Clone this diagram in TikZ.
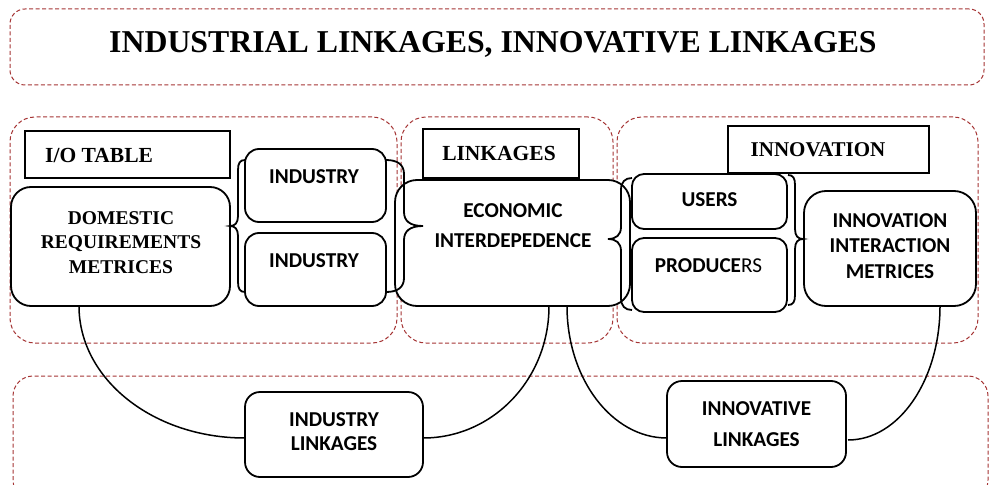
\documentclass[tikz,border=0pt]{standalone}
\usepackage{fontspec}
\setmainfont{Liberation Serif}
\newfontfamily\calfont{Carlito}
\definecolor{dred}{RGB}{165,52,52}
\begin{document}
\begin{tikzpicture}[x=1pt,y=-1pt,
  grp/.style={draw=dred, line width=1pt, dash pattern=on 4pt off 2.5pt, rounded corners=#1, inner sep=0pt, outer sep=0pt},
  grp/.default=25pt,
  rbox/.style={draw=black, line width=1.8pt, fill=white, rounded corners=#1, inner sep=0pt, outer sep=0pt},
  rbox/.default=14pt,
  tbox/.style={draw=black, line width=1.8pt, fill=white, inner sep=0pt, outer sep=0pt},
  sans/.style={font=\calfont\bfseries\fontsize{21.2}{#1}\selectfont, align=center, inner sep=0pt, anchor=base},
  sans/.default=25pt,
  serif/.style={font=\bfseries\fontsize{#1}{24.5}\selectfont, align=center, inner sep=0pt, anchor=base},
  serif/.default=21.5pt,
  bracepath/.style={draw=black, line width=1.8pt},
  link/.style={draw=black, line width=1.5pt}]
\useasboundingbox (0,0) rectangle (992,484);

% dashed groups
\node[grp=15pt, minimum width=974pt, minimum height=76pt] (tg) at (497,47) {};
\node[grp, minimum width=387pt, minimum height=226pt] (g1) at (203.5,230) {};
\node[grp, minimum width=212pt, minimum height=226pt] (g2) at (507,230) {};
\node[grp, minimum width=361pt, minimum height=226pt] (g3) at (797.5,230) {};
\node[grp=20pt, minimum width=975pt, minimum height=124pt] (g4) at (500.5,438) {};

\node[font=\bfseries\fontsize{31.8}{36}\selectfont, anchor=base, inner sep=0pt] (title) at (493,53) {INDUSTRIAL LINKAGES, INNOVATIVE LINKAGES};

% boxes
\node[tbox, minimum width=205pt, minimum height=47pt] (io) at (127.5,154.5) {};
\node[rbox=20pt, minimum width=219pt, minimum height=119pt] (dom) at (120.5,246.5) {};
\node[rbox, minimum width=141pt, minimum height=73pt] (ind1) at (315.5,185.5) {};
\node[rbox, minimum width=141pt, minimum height=73pt] (ind2) at (315.5,269.5) {};
\node[tbox, minimum width=156pt, minimum height=49pt] (lk) at (501,153.5) {};
\node[rbox=22pt, minimum width=235pt, minimum height=126pt] (ec) at (512.5,243) {};
\node[tbox, minimum width=201pt, minimum height=47pt] (inv) at (828.5,149.5) {};
\node[rbox=12pt, minimum width=155pt, minimum height=55pt] (us) at (709.5,201.5) {};
\node[rbox=12pt, minimum width=155pt, minimum height=74pt] (pr) at (709.5,275) {};
\node[rbox=22pt, minimum width=172pt, minimum height=115pt] (iim) at (890,248.5) {};
\node[rbox=15pt, minimum width=178pt, minimum height=85pt] (il) at (334,434.5) {};
\node[rbox=15pt, minimum width=179pt, minimum height=86pt] (inl) at (756.5,424) {};

% texts (multi-line nodes: anchor=base is the last line's baseline)
\node[serif, anchor=base west] (tio) at (45,162) {I/O TABLE};
\node[serif] (tlk) at (499,160) {LINKAGES};
\node[serif=21pt] (tinv) at (818,156) {INNOVATION};
\node[serif=19.5pt] (tdom) at (121,273) {DOMESTIC\\REQUIREMENTS\\METRICES};
\node[sans] (tind1) at (314,183) {INDUSTRY};
\node[sans] (tind2) at (314,267) {INDUSTRY};
\node[sans=30pt] (tec) at (513,247) {ECONOMIC\\INTERDEPEDENCE};
\node[sans] (tus) at (709.5,206) {USERS};
\node[sans] (tpr) at (708.5,272) {PRODUCE{\mdseries RS}};
\node[sans=25.5pt] (tiim) at (890,278) {INNOVATION\\INTERACTION\\METRICES};
\node[sans=24pt] (til) at (334,450) {INDUSTRY\\LINKAGES};
\node[sans=31pt] (tinl) at (756.5,446) {INNOVATIVE\\LINKAGES};

% braces
\draw[bracepath] (245,160) .. controls (240,160) and (238,163) .. (238,170) -- (238,216) .. controls (238,223) and (235,226) .. (230,226) .. controls (235,226) and (238,229) .. (238,236) -- (238,282) .. controls (238,289) and (240,292) .. (245,292);
\draw[bracepath] (386,160) .. controls (398,160) and (404,165) .. (404,174) -- (404,212) .. controls (404,221) and (410,226) .. (423,226) .. controls (410,226) and (404,231) .. (404,240) -- (404,278) .. controls (404,287) and (398,292) .. (386,292);
\draw[bracepath] (632,178) .. controls (625,178) and (621,182) .. (621,190) -- (621,227) .. controls (621,235) and (616,239) .. (608,239) .. controls (616,239) and (621,243) .. (621,251) -- (621,298) .. controls (621,306) and (625,310) .. (632,310);
\draw[bracepath] (788,175) .. controls (793,175) and (795,178) .. (795,185) -- (795,229) .. controls (795,236) and (798,239) .. (803,239) .. controls (798,239) and (795,242) .. (795,249) -- (795,295) .. controls (795,302) and (793,305) .. (788,305);

% connectors
\draw[link] ([xshift=68pt]dom.south west) .. controls +(0,73) and +(-92,0) .. ([yshift=-3.5pt]il.west);
\draw[link] ([yshift=-3.5pt]il.east) .. controls +(70,0) and +(0,73) .. ([xshift=36.5pt]ec.south);
\draw[link] ([xshift=54.5pt]ec.south) .. controls +(0,73) and +(-55,0) .. ([yshift=-14pt]inl.west);
\draw[link] ([xshift=2pt,yshift=-16pt]inl.east) .. controls +(51,0) and +(0,74) .. ([xshift=50pt]iim.south);
\end{tikzpicture}
\end{document}
